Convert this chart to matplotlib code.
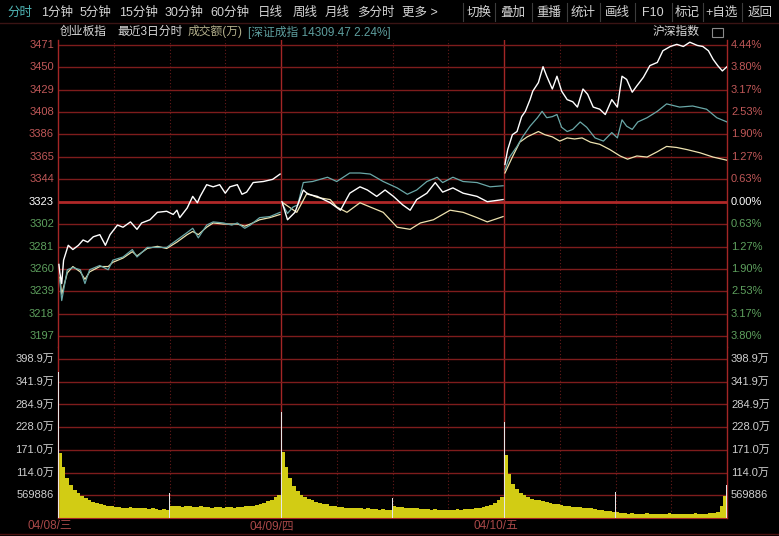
import numpy as np
import matplotlib
matplotlib.use("Agg")
import matplotlib.pyplot as plt
import matplotlib.transforms as mtransforms
from matplotlib.lines import Line2D
from matplotlib.patches import Rectangle

plt.rcParams['font.family'] = ['Liberation Sans', 'Noto Sans CJK SC', 'DejaVu Sans']

W, H = 779, 536

# axis labels
base = 3323.0
step = 21.07  # one grid step (0.634 %)
price_ticks = [3471, 3450, 3429, 3408, 3386, 3365, 3344, 3323, 3302, 3281, 3260, 3239, 3218, 3197]
pct_ticks = ['4.44%', '3.80%', '3.17%', '2.53%', '1.90%', '1.27%', '0.63%', '0.00%',
             '0.63%', '1.27%', '1.90%', '2.53%', '3.17%', '3.80%']
vol_ticks = [398.9, 341.9, 284.9, 228.0, 171.0, 114.0, 56.9886]
vol_labels = ['398.9万', '341.9万', '284.9万', '228.0万', '171.0万', '114.0万', '569886']
dates = ['04/08/三', '04/09/四', '04/10/五']

toolbar_left = ['分时', '1分钟', '5分钟', '15分钟', '30分钟', '60分钟', '日线', '周线', '月线', '多分时', '更多 >']
toolbar_right = ['切换', '叠加', '重播', '统计', '画线', 'F10', '标记', '+自选', '返回']

# 创业板指 (white), minutes over 3 sessions (240 min each)
white_t = [1, 2, 4, 6, 11, 16, 22, 27, 32, 38, 45, 51, 56, 64, 70, 78, 85, 90, 99, 107,
           117, 124, 128, 131, 139, 145, 150, 153, 160, 167, 174, 180, 185, 193, 198, 203, 210, 221, 231, 239,
           241, 247, 255, 264, 269, 279, 293, 304, 314, 325, 333, 343, 352, 361, 371, 379, 386, 397, 406, 414,
           425, 436, 451, 462, 479,
           481, 484, 489, 494, 499, 503, 508, 511, 517, 522, 526, 532, 537, 542, 548, 554, 559, 565, 570, 576,
           583, 589, 596, 602, 607, 612, 618, 623, 630, 637, 645, 651, 659, 666, 673, 680, 688, 694, 700, 705,
           710, 715, 720]
white_p = [3264, 3256, 3246, 3268, 3282, 3278, 3282, 3287, 3285, 3290, 3292, 3282, 3292, 3301, 3299, 3304, 3297, 3303, 3306, 3313,
           3314, 3311, 3315, 3308, 3317, 3328, 3322, 3328, 3339, 3337, 3339, 3331, 3337, 3339, 3330, 3332, 3341, 3342, 3344, 3349,
           3323, 3306, 3313, 3334, 3330, 3328, 3322, 3315, 3331, 3337, 3334, 3328, 3334, 3328, 3320, 3315, 3325, 3331, 3341, 3332,
           3336, 3331, 3328, 3323, 3325,
           3358, 3372, 3386, 3389, 3403, 3408, 3419, 3427, 3435, 3450, 3441, 3429, 3441, 3427, 3419, 3417, 3412, 3429, 3424, 3412,
           3410, 3405, 3419, 3412, 3441, 3438, 3426, 3432, 3440, 3451, 3454, 3465, 3469, 3471, 3469, 3473, 3470, 3469, 3465, 3457,
           3451, 3446, 3450]

# overlay (teal)
teal_t = [2, 4, 10, 16, 24, 29, 34, 45, 54, 59, 70, 80, 85, 96, 107, 117, 128, 139, 145, 151,
          160, 167, 178, 187, 193, 201, 207, 217, 228, 239,
          242, 247, 253, 258, 264, 274, 290, 300, 314, 325, 336, 350, 365, 376, 386, 397, 408, 414, 425, 436,
          451, 465, 479,
          481, 486, 494, 500, 508, 516, 521, 526, 532, 537, 542, 548, 554, 562, 569, 578, 587, 596, 602, 607,
          612, 618, 624, 634, 645, 655, 669, 683, 698, 709, 720]
teal_p = [3249, 3230, 3259, 3261, 3259, 3246, 3259, 3263, 3259, 3268, 3271, 3278, 3271, 3280, 3280, 3280, 3287, 3294, 3298, 3289,
          3301, 3304, 3303, 3301, 3303, 3298, 3301, 3308, 3309, 3313,
          3320, 3312, 3318, 3320, 3341, 3342, 3346, 3342, 3350, 3350, 3349, 3342, 3336, 3330, 3334, 3342, 3346, 3341, 3346, 3342,
          3341, 3337, 3338,
          3353, 3365, 3375, 3384, 3394, 3402, 3408, 3402, 3403, 3405, 3393, 3389, 3391, 3398, 3393, 3383, 3380, 3388, 3383, 3400,
          3394, 3391, 3398, 3402, 3408, 3415, 3412, 3413, 3410, 3402, 3398]

# overlay (cream)
cream_t = [2, 4, 10, 16, 24, 29, 34, 45, 54, 59, 70, 80, 85, 96, 107, 117, 128, 139, 145, 151,
           160, 167, 178, 187, 193, 201, 207, 217, 228, 239,
           242, 257, 268, 279, 293, 300, 311, 325, 336, 350, 365, 379, 390, 404, 422, 436, 451, 462, 479,
           481, 489, 497, 505, 517, 524, 532, 540, 548, 556, 564, 573, 583, 594, 605, 613, 623, 634, 645, 655,
           666, 677, 691, 705, 720]
cream_p = [3252, 3236, 3256, 3262, 3257, 3250, 3257, 3262, 3262, 3266, 3270, 3276, 3272, 3279, 3281, 3279, 3285, 3292, 3295, 3292,
           3299, 3303, 3302, 3302, 3302, 3300, 3302, 3306, 3308, 3311,
           3322, 3313, 3331, 3327, 3325, 3318, 3313, 3322, 3318, 3313, 3299, 3297, 3303, 3306, 3315, 3313, 3308, 3304, 3309,
           3350, 3365, 3379, 3384, 3389, 3386, 3384, 3380, 3383, 3382, 3383, 3379, 3377, 3372, 3366, 3363, 3366, 3365, 3370, 3375,
           3374, 3372, 3369, 3365, 3362]

# turnover in 万, 4-minute buckets (60 per session)
vol_day1 = [163, 128, 100, 82, 70, 62, 55, 50, 45, 40, 38, 34, 32, 30, 29, 27, 28, 26, 25, 27,
            24, 25, 26, 24, 23, 25, 22, 21, 22, 20, 30, 29, 31, 28, 30, 29, 27, 28, 29, 27,
            28, 26, 27, 28, 26, 27, 28, 26, 27, 28, 29, 30, 31, 33, 35, 38, 42, 46, 52, 58]
vol_day2 = [166, 128, 100, 80, 68, 58, 52, 48, 44, 40, 38, 36, 34, 31, 29, 28, 27, 26, 26, 25,
            24, 25, 23, 24, 22, 23, 21, 22, 21, 20, 30, 28, 27, 26, 25, 24, 24, 23, 22, 23,
            21, 22, 21, 20, 21, 20, 21, 22, 21, 22, 22, 23, 24, 25, 27, 30, 33, 38, 44, 52]
vol_day3 = [158, 110, 85, 72, 63, 57, 52, 48, 46, 44, 42, 40, 38, 36, 34, 32, 31, 30, 28, 28,
            27, 26, 25, 24, 22, 21, 20, 18, 17, 16, 14, 12, 12, 11, 12, 11, 10, 11, 12, 11,
            10, 11, 10, 11, 12, 10, 11, 10, 11, 10, 11, 12, 11, 10, 11, 12, 13, 14, 30, 55]
# auction / session-open spikes
spike_t = [0.5, 120, 240.5, 360, 480.5, 600, 719.5]
spike_v = [366, 63, 266, 50, 241, 65, 83]

RED_TXT = '#c05858'
GRN_TXT = '#5ea05e'
GRID = '#7e1c1c'
FRAME = '#a42626'


def fx(px):
    return px / W


def fy(py):
    return 1 - py / H


fig = plt.figure(figsize=(W / 100, H / 100), dpi=100, facecolor='black')

# price panel
ax = fig.add_axes([fx(58), fy(347), (727 - 58) / W, (347 - 40) / H], facecolor='black')
ax.set_xlim(0, 720)
ax.set_ylim(base - (347 - 201.7) * 0.9406, base + (201.7 - 40) * 0.9406)

# volume panel
axv = fig.add_axes([fx(58), fy(518), (727 - 58) / W, (518 - 347) / H], facecolor='black')
axv.set_xlim(0, 720)
axv.set_ylim(0, (518 - 347) * 2.509)

for a in (ax, axv):
    a.set_xticks([])
    a.set_yticks([])
    for s in ('top', 'bottom'):
        a.spines[s].set_visible(False)
    for s in ('left', 'right'):
        a.spines[s].set_color(FRAME)
        a.spines[s].set_linewidth(1.0)
    for t in (60, 120, 180, 300, 360, 420, 540, 600, 660):
        a.axvline(t, color='#661a1a', lw=0.8, ls=(0, (1, 2)), zorder=1)
    for t in (240, 480):
        a.axvline(t, color=FRAME, lw=1.0, zorder=1)
axv.spines['bottom'].set_visible(True)
axv.spines['bottom'].set_color(FRAME)

# price grid + labels
trans_p = mtransforms.blended_transform_factory(fig.transFigure, ax.transData)
for k, (lab, pct) in enumerate(zip(price_ticks, pct_ticks)):
    level = base + (7 - k) * step
    if k < 7:
        c = RED_TXT
    elif k == 7:
        c = 'white'
    else:
        c = GRN_TXT
    if k == 7:
        ax.axhline(level, color='#b02828', lw=2.0, zorder=1)
    else:
        ax.axhline(level, color=GRID, lw=1.0, zorder=1)
    ax.text(fx(54), level, str(lab), transform=trans_p, ha='right', va='center', color=c, fontsize=8)
    ax.text(fx(731), level, pct, transform=trans_p, ha='left', va='center', color=c, fontsize=8)


def plot_series(t, p, color, lw=0.9):
    t = np.array(t, dtype=float)
    p = np.array(p, dtype=float)
    day = np.minimum(t // 240, 2)
    for d in range(3):
        m = day == d
        ax.plot(t[m], p[m], color=color, lw=lw, zorder=3)


plot_series(cream_t, cream_p, '#eee3b0')
plot_series(teal_t, teal_p, '#6aa8a8')
plot_series(white_t, white_p, 'white', lw=1.0)

# volume grid + labels
trans_v = mtransforms.blended_transform_factory(fig.transFigure, axv.transData)
for v, lab in zip(vol_ticks, vol_labels):
    axv.axhline(v, color=GRID, lw=1.0, zorder=1)
    axv.text(fx(54), v, lab, transform=trans_v, ha='right', va='center', color='#cfcfcf', fontsize=8)
    axv.text(fx(731), v, lab, transform=trans_v, ha='left', va='center', color='#cfcfcf', fontsize=8)

vol = vol_day1 + vol_day2 + vol_day3
vol_t = np.arange(len(vol)) * 4 + 2
axv.bar(vol_t, vol, width=4, color='#d2cc14', linewidth=0, zorder=2)
axv.bar(spike_t, spike_v, width=1.0, color='#e6e6e6', linewidth=0, zorder=3)

# date row
for cx, d in zip((50, 272, 496), dates):
    fig.text(fx(cx), fy(526), d, ha='center', va='center', color='#a84848', fontsize=8.5)
fig.add_artist(Line2D([0, 1], [fy(534), fy(534)], color='#4a1010', lw=1))

# toolbar
for cx, s in zip((20, 57, 95, 138, 184, 230, 270, 305, 337, 376, 420), toolbar_left):
    fig.text(fx(cx), fy(13), s, ha='center', va='center', fontsize=9,
             color='#4fb5b5' if s == '分时' else '#d4d4d4')
for cx, s in zip((479, 513, 549, 583, 617, 653, 687, 722, 760), toolbar_right):
    fig.text(fx(cx), fy(13), s, ha='center', va='center', fontsize=9, color='#d4d4d4')
for dx in (463, 495, 532, 567, 600, 635, 672, 703, 742):
    fig.add_artist(Line2D([fx(dx), fx(dx)], [fy(3), fy(21)], color='#3c3c3c', lw=0.8))
fig.add_artist(Line2D([0, 1], [fy(22.5), fy(22.5)], color='#3a1414', lw=1))

# header line
fig.text(fx(60), fy(32), '创业板指', ha='left', va='center', fontsize=8.5, color='#d8d8d8')
fig.text(fx(117), fy(32), '最近3日分时', ha='left', va='center', fontsize=8.5, color='#d8d8d8')
fig.text(fx(188), fy(32), '成交额(万)', ha='left', va='center', fontsize=8.5, color='#b4b08c')
fig.text(fx(248), fy(32), '[深证成指 14309.47 2.24%]', ha='left', va='center', fontsize=8.5, color='#5e9e9e')
fig.text(fx(653), fy(32), '沪深指数', ha='left', va='center', fontsize=8.5, color='#d8d8d8')
fig.add_artist(Rectangle((fx(712), fy(37)), 11 / W, 9 / H, transform=fig.transFigure,
                         facecolor='none', edgecolor='#8a8a8a', lw=0.8))

fig.savefig('out.png', dpi=100, facecolor='black')
